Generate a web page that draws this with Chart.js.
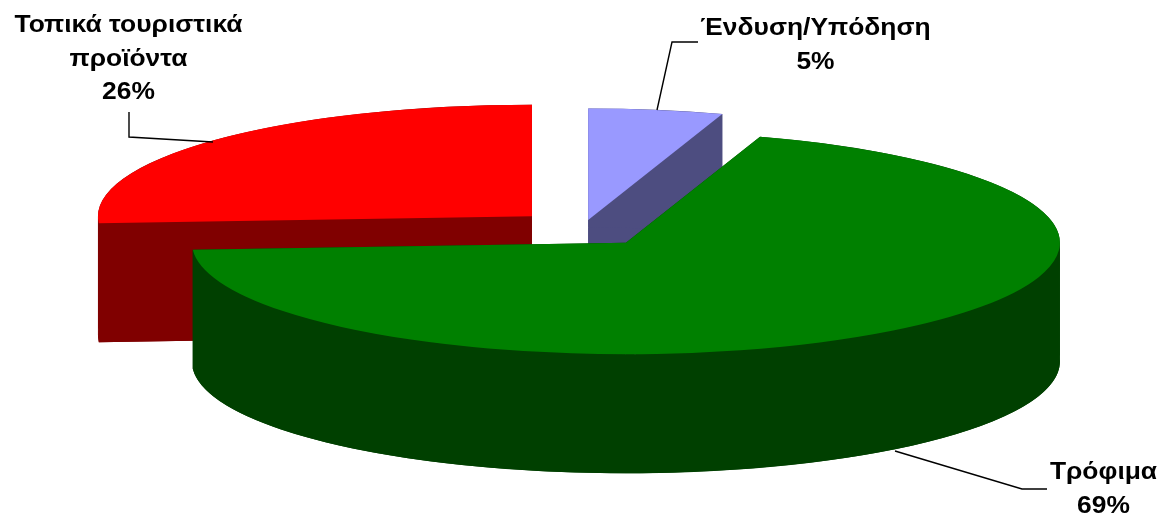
<!DOCTYPE html>
<html><head><meta charset="utf-8">
<script src="https://cdn.jsdelivr.net/npm/chart.js@4.4.1/dist/chart.umd.min.js"></script>
<style>html,body{margin:0;padding:0;background:#fff;overflow:hidden}#wrap{width:1161px;height:516px;position:relative}</style>
</head><body><div id="wrap"><canvas id="c" width="1161" height="516"></canvas></div>
<script>
const categories = ['Ένδυση/Υπόδηση', 'Τρόφιμα', 'Τοπικά τουριστικά προϊόντα'];
const labelLines = [['Ένδυση/Υπόδηση'], ['Τρόφιμα'], ['Τοπικά τουριστικά', 'προϊόντα']];
const values = [5, 69, 26];
const topColors = ['#9999FF', '#008000', '#FF0000'];
const sideColors = ['#4D4D80', '#004000', '#800000'];
const explode = [33, 70, 70];

const RADIUS = 434, RATIO = 0.257, DEPTH = 119, CX = 583, CY = 228.5;

const labelPos = [
  {x: 815.5, y: 35, line: [[698, 42], [672, 42], [657, 110]]},
  {x: 1103.5, y: 479, line: [[1047, 489], [1022, 489], [895, 451]]},
  {x: 128.5, y: 32, line: [[129, 112], [129, 137], [213, 142]]}
];

function sliceGeom(arc, i) {
  const p = arc.getProps(['x', 'y', 'startAngle', 'endAngle', 'outerRadius'], true);
  const mid = (p.startAngle + p.endAngle) / 2;
  return {x: p.x + Math.cos(mid) * explode[i], y: p.y + Math.sin(mid) * explode[i],
          r: p.outerRadius, a1: p.startAngle, a2: p.endAngle, mid};
}

function drawSide(ctx, g, D) {
  const {x, y, r, a1, a2} = g;
  // bottom face
  ctx.beginPath();
  ctx.moveTo(x, y + D);
  ctx.arc(x, y + D, r, a1, a2);
  ctx.closePath();
  ctx.fill();
  // radial walls
  [a1, a2].forEach(a => {
    const ex = x + Math.cos(a) * r, ey = y + Math.sin(a) * r;
    ctx.beginPath();
    ctx.moveTo(x, y); ctx.lineTo(ex, ey); ctx.lineTo(ex, ey + D); ctx.lineTo(x, y + D);
    ctx.closePath();
    ctx.fill();
  });
  // outer walls, split where x is extreme (multiples of PI)
  const cuts = [a1];
  let k = Math.ceil(a1 / Math.PI) * Math.PI;
  if (k <= a1) k += Math.PI;
  for (; k < a2; k += Math.PI) cuts.push(k);
  cuts.push(a2);
  for (let j = 0; j < cuts.length - 1; j++) {
    const s = cuts[j], e = cuts[j + 1];
    ctx.beginPath();
    ctx.arc(x, y, r, s, e);
    ctx.lineTo(x + Math.cos(e) * r, y + Math.sin(e) * r + D);
    ctx.arc(x, y + D, r, e, s, true);
    ctx.closePath();
    ctx.fill();
  }
}

const pie3d = {
  id: 'pie3d',
  beforeDatasetsDraw(chart) {
    const ctx = chart.ctx;
    const meta = chart.getDatasetMeta(0);
    const a0 = meta.data[0];
    const cx0 = a0.x, cy0 = a0.y;
    const D = DEPTH / RATIO;
    ctx.save();
    ctx.translate(CX, CY);
    ctx.scale(1, RATIO);
    ctx.translate(-cx0, -cy0);
    const order = [0, 2, 1];
    for (const i of order) {
      const g = sliceGeom(meta.data[i], i);
      ctx.fillStyle = sideColors[i];
      drawSide(ctx, g, D);
    }
    for (const i of order) {
      const arc = meta.data[i];
      const g = sliceGeom(arc, i);
      ctx.save();
      ctx.translate(g.x - arc.x, g.y - arc.y);
      arc.draw(ctx);
      ctx.restore();
    }
    ctx.restore();
    return false;
  },
  afterDraw(chart) {
    const ctx = chart.ctx;
    ctx.save();
    ctx.strokeStyle = '#000';
    ctx.lineWidth = 1.4;
    ctx.fillStyle = '#000';
    ctx.font = 'bold 24px "Liberation Sans", Arial, sans-serif';
    ctx.textAlign = 'center';
    ctx.textBaseline = 'alphabetic';
    labelPos.forEach((lp, i) => {
      const lines = labelLines[i].concat([values[i] + '%']);
      lines.forEach((t, k) => {
        ctx.save();
        ctx.translate(lp.x, lp.y + k * 33.5);
        ctx.scale(1.1, 1);
        ctx.fillText(t, 0, 0);
        ctx.restore();
      });
      ctx.beginPath();
      lp.line.forEach((pt, k) => k ? ctx.lineTo(pt[0], pt[1]) : ctx.moveTo(pt[0], pt[1]));
      ctx.stroke();
    });
    ctx.restore();
  }
};

new Chart(document.getElementById('c'), {
  type: 'pie',
  data: {
    labels: categories,
    datasets: [{
      data: values,
      backgroundColor: topColors,
      borderWidth: 0,
      hoverOffset: 0,
      radius: RADIUS,
      clip: false
    }]
  },
  options: {
    responsive: false,
    animation: false,
    events: [],
    layout: {padding: {left: 5}},
    plugins: {legend: {display: false}, tooltip: {enabled: false}}
  },
  plugins: [pie3d]
});
</script></body></html>
